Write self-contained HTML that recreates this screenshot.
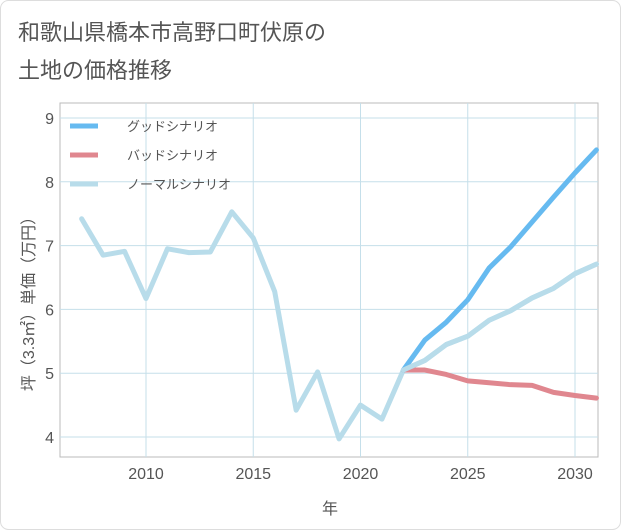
<!DOCTYPE html>
<html><head><meta charset="utf-8"><style>
body{margin:0;background:#fff;font-family:"Liberation Sans","Noto Sans CJK JP",sans-serif;}
#wrap{position:relative;width:621px;height:530px;}
</style></head><body>
<div id="wrap">
<svg id="chart" width="621" height="530" style="position:absolute;left:0;top:0">
<rect x="0.5" y="0.5" width="620" height="529" rx="8" fill="#fff" stroke="#ddd"/>
<text x="18" y="40" font-size="22" fill="#555">和歌山県橋本市高野口町伏原の</text>
<text x="18" y="78" font-size="22" fill="#555">土地の価格推移</text>
<g id="grid"></g>
<g id="series"></g>
<g id="legend"></g>
<text x="330" y="514" font-size="16" fill="#555" text-anchor="middle">年</text>
<text transform="translate(34,300) rotate(-90)" font-size="16" fill="#555" text-anchor="middle">坪（3.3㎡）単価（万円）</text>
</svg>
</div>
<script>
const years=[2007,2008,2009,2010,2011,2012,2013,2014,2015,2016,2017,2018,2019,2020,2021,2022,2023,2024,2025,2026,2027,2028,2029,2030,2031];
const normal=[7.42,6.85,6.91,6.17,6.95,6.89,6.90,7.53,7.12,6.28,4.42,5.02,3.97,4.50,4.28,5.05,5.20,5.45,5.58,5.83,5.98,6.18,6.33,6.56,6.71];
const fYears=[2022,2023,2024,2025,2026,2027,2028,2029,2030,2031];
const good=[5.05,5.52,5.80,6.15,6.65,6.98,7.37,7.76,8.14,8.50];
const bad=[5.05,5.05,4.98,4.88,4.85,4.82,4.81,4.70,4.65,4.61];
const xTicks=[2010,2015,2020,2025,2030];
const yTicks=[4,5,6,7,8,9];
const L=60,R=598,T=103,B=457;
const X=y=>146+(y-2010)*21.45;
const Y=v=>437-(v-4)*63.8;
const ns="http://www.w3.org/2000/svg";
function mk(t,a,p){const e=document.createElementNS(ns,t);for(const k in a)e.setAttribute(k,a[k]);p.appendChild(e);return e;}
const g=document.getElementById('grid');
const bg=mk('rect',{x:L,y:T,width:R-L,height:B-T,fill:'#fff',stroke:'#bbb'},g);


xTicks.forEach(yr=>{const l=mk('line',{x1:X(yr),x2:X(yr),y1:T,y2:B,stroke:'#c5dfea','stroke-width':1},g);

});
yTicks.forEach(v=>{const l=mk('line',{x1:L,x2:R,y1:Y(v),y2:Y(v),stroke:'#c5dfea','stroke-width':1},g);

});
xTicks.forEach(t=>{const e=mk('text',{x:X(t),y:479,'font-size':16,fill:'#555','text-anchor':'middle'},g);e.textContent=t;

});
yTicks.forEach(t=>{const e=mk('text',{x:54,y:Y(t)+6,'font-size':16,fill:'#555','text-anchor':'end'},g);e.textContent=t;

});
const s=document.getElementById('series');
function line(xs,vs,c,name){const p=mk('polyline',{points:xs.map((x,i)=>X(x)+','+Y(vs[i])).join(' '),fill:'none',stroke:c,'stroke-width':5,'stroke-linejoin':'round','stroke-linecap':'round'},s);

}
line(years,normal,'#b8dcea','normal-scenario-line');
line(fYears,bad,'#e0878f','bad-scenario-line');
line(fYears,good,'#66baf0','good-scenario-line');
line(fYears,normal.slice(15),'#b8dcea','normal-forecast-line');
const lg=document.getElementById('legend');
[['グッドシナリオ','#66baf0'],['バッドシナリオ','#e0878f'],['ノーマルシナリオ','#b8dcea']].forEach((d,i)=>{
const y=126+i*29;
const l=mk('line',{x1:70,x2:98,y1:y,y2:y,stroke:d[1],'stroke-width':5},lg);


const t=mk('text',{x:127,y:y+5,'font-size':13,fill:'#555'},lg);t.textContent=d[0];

});
</script>
</body></html>
